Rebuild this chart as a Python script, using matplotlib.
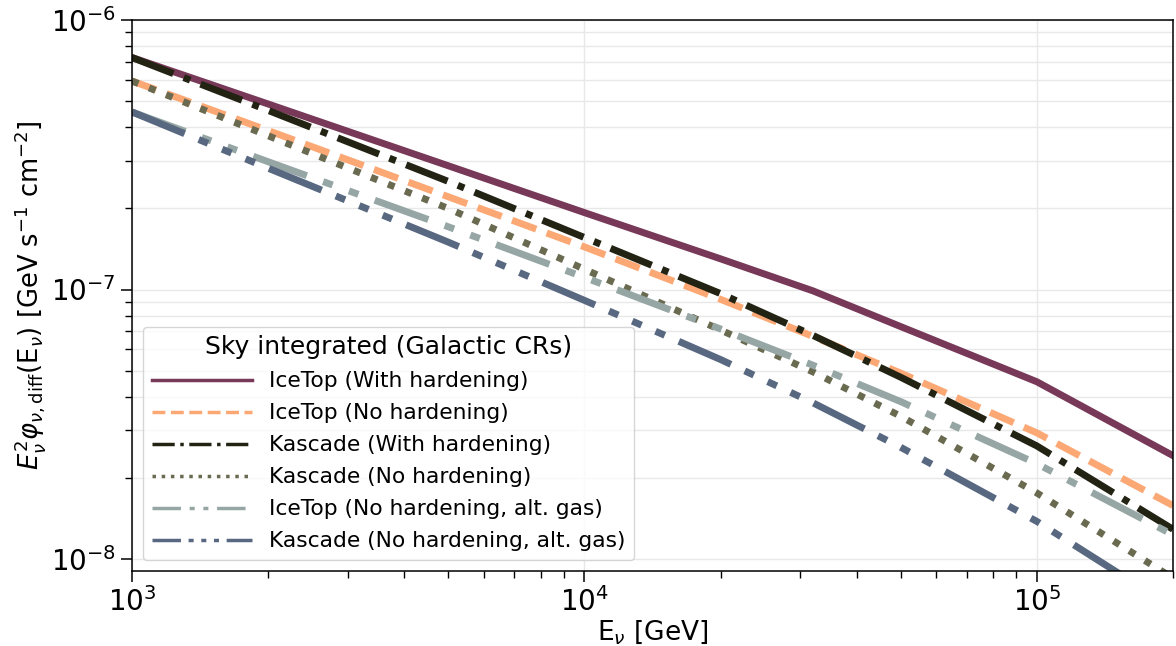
import matplotlib
matplotlib.use('Agg')
import matplotlib.pyplot as plt

# neutrino energy [GeV]
energy = [1e3, 2e3, 5e3, 1e4, 2e4, 3.2e4, 5e4, 1e5, 2e5]

# E^2 * flux [GeV s^-1 cm^-2]
icetop_hard = [7.26e-7, 4.88e-7, 2.88e-7, 1.93e-7, 1.30e-7, 9.89e-8, 7.29e-8, 4.55e-8, 2.42e-8]
icetop_nohard = [5.94e-7, 3.89e-7, 2.21e-7, 1.44e-7, 9.20e-8, 6.70e-8, 4.90e-8, 2.94e-8, 1.58e-8]
kascade_hard = [7.26e-7, 4.62e-7, 2.52e-7, 1.56e-7, 9.66e-8, 6.76e-8, 4.73e-8, 2.63e-8, 1.29e-8]
kascade_nohard = [5.94e-7, 3.72e-7, 2.00e-7, 1.19e-7, 7.08e-8, 4.95e-8, 3.39e-8, 1.76e-8, 8.5e-9]
icetop_altgas = [4.56e-7, 2.98e-7, 1.71e-7, 1.11e-7, 7.14e-8, 5.24e-8, 3.84e-8, 2.26e-8, 1.23e-8]
kascade_altgas = [4.56e-7, 2.82e-7, 1.50e-7, 9.12e-8, 5.50e-8, 3.80e-8, 2.60e-8, 1.38e-8, 6.6e-9]

labels = ['IceTop (With hardening)', 'IceTop (No hardening)',
          'Kascade (With hardening)', 'Kascade (No hardening)',
          'IceTop (No hardening, alt. gas)', 'Kascade (No hardening, alt. gas)']

fig = plt.figure(figsize=(11.76, 6.46), dpi=100)
ax = fig.add_axes([0.1122, 0.1161, 0.8852, 0.8529])

lw = 5
ax.plot(energy, icetop_hard, color='#783858', lw=lw, ls='-', label=labels[0])
ax.plot(energy, icetop_nohard, color='#fca874', lw=lw, ls='--', label=labels[1])
ax.plot(energy, kascade_hard, color='#232314', lw=lw, ls='-.', label=labels[2])
ax.plot(energy, kascade_nohard, color='#6a6a50', lw=lw, ls=':', label=labels[3])
ax.plot(energy, icetop_altgas, color='#96a6a4', lw=lw,
        ls=(0, (8.2, 2.5, 1.45, 2.5, 1.45, 2.5)), label=labels[4])
ax.plot(energy, kascade_altgas, color='#586880', lw=lw,
        ls=(0, (8.2, 2.2, 1.45, 2.2, 1.45, 2.2, 1.45, 2.2)), label=labels[5])

ax.set_xscale('log')
ax.set_yscale('log')
ax.set_xlim(1e3, 2e5)
ax.set_ylim(9.03e-9, 1e-6)

ax.set_axisbelow(True)
ax.yaxis.grid(True, which='both', color='#e8e8e8', lw=1.0)
ax.xaxis.grid(True, which='major', color='#e8e8e8', lw=1.0)

ax.tick_params(which='major', labelsize=20, length=8, width=1.1)
ax.tick_params(which='minor', length=5, width=1.0)
for s in ax.spines.values():
    s.set_linewidth(1.1)

ax.set_xlabel(r'E$_{\nu}$ [GeV]', fontsize=19, labelpad=1)
ax.set_ylabel(r'$E_{\nu}^{2}\varphi_{\nu,\mathrm{diff}}(\mathrm{E}_{\nu})$ [GeV s$^{-1}$ cm$^{-2}$]',
              fontsize=18.5, labelpad=2)

leg = ax.legend(loc='lower left', title='Sky integrated (Galactic CRs)',
                fontsize=15.7, title_fontsize=18, handlelength=4.6, handletextpad=0.8,
                labelspacing=0.55)
for line in leg.get_lines():
    line.set_linewidth(2.5)

fig.savefig('out.png', dpi=100)
